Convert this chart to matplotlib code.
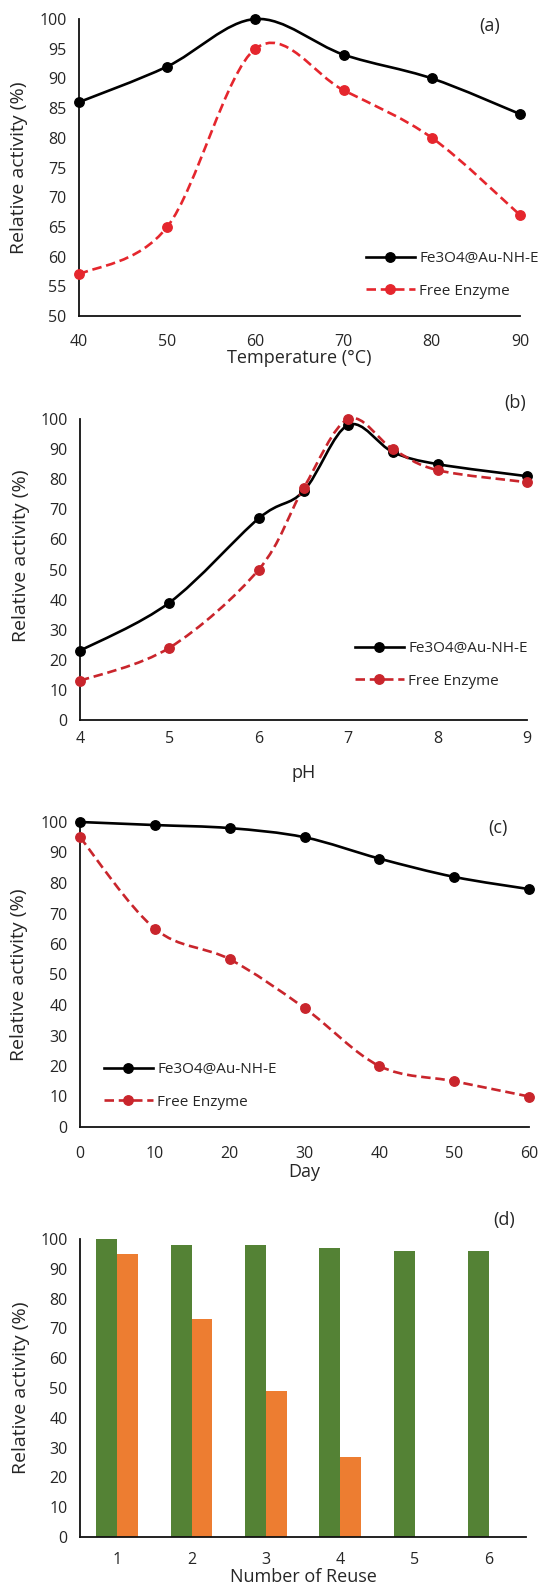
"""Enzyme activity panels: temperature, pH, storage stability and reuse."""

import matplotlib

matplotlib.use("Agg")
import matplotlib.pyplot as plt
from matplotlib.lines import Line2D
from matplotlib.patches import PathPatch
from matplotlib.path import Path
import numpy as np

plt.rcParams["font.family"] = ["Open Sans", "DejaVu Sans"]

LABEL_IMMOB = "Fe3O4@Au-NH-E"
LABEL_FREE = "Free Enzyme"

# (a) temperature
temp_c = [40, 50, 60, 70, 80, 90]
temp_immob = [86, 92, 100, 94, 90, 84]
temp_free = [57, 65, 95, 88, 80, 67]

# (b) pH
ph_values = [4, 5, 6, 6.5, 7, 7.5, 8, 9]
ph_immob = [23, 39, 67, 76, 98, 89, 85, 81]
ph_free = [13, 24, 50, 77, 100, 90, 83, 79]

# (c) storage days
days = [0, 10, 20, 30, 40, 50, 60]
day_immob = [100, 99, 98, 95, 88, 82, 78]
day_free = [95, 65, 55, 39, 20, 15, 10]

# (d) reuse cycles
reuse = [1, 2, 3, 4, 5, 6]
reuse_immob = [100, 98, 98, 97, 96, 96]
reuse_free = [95, 73, 49, 27, 0, 0]

BLACK = "#000000"
GREEN = "#548235"
ORANGE = "#ED7D31"
TEXT = "#262626"
DASH = (0, (3.6, 1.8))

W, H = 541, 1585


def px_axes(left, right, top, bottom):
    """Axes rectangle from pixel edges."""
    return [left / W, 1 - bottom / H, (right - left) / W, (bottom - top) / H]


def smooth_path(x, y):
    """Excel-like smoothed line as cubic Bezier segments."""
    pts = np.column_stack([x, y]).astype(float)
    n = len(pts)
    verts = [pts[0]]
    codes = [Path.MOVETO]
    for i in range(n - 1):
        p0 = pts[max(i - 1, 0)]
        p1 = pts[i]
        p2 = pts[i + 1]
        p3 = pts[min(i + 2, n - 1)]
        verts += [p1 + (p2 - p0) / 6, p2 - (p3 - p1) / 6, p2]
        codes += [Path.CURVE4] * 3
    return Path(verts, codes)


def draw_series(ax, x, y, color, dashed):
    ls = DASH if dashed else "-"
    ax.add_patch(PathPatch(smooth_path(x, y), fill=False, ec=color, lw=1.9,
                           ls=ls, clip_on=False, zorder=3))
    ax.plot(x, y, ls="none", marker="o", ms=6.8, color=color, clip_on=False, zorder=4)


def style_axes(ax, tick_pad_x):
    for side in ("top", "right"):
        ax.spines[side].set_visible(False)
    for side in ("left", "bottom"):
        ax.spines[side].set_linewidth(1.3)
        ax.spines[side].set_color("#111111")
    ax.tick_params(axis="both", length=0, labelsize=11.5, colors=TEXT)
    ax.tick_params(axis="y", pad=9)
    ax.tick_params(axis="x", pad=tick_pad_x)


def set_labels(ax, xlabel, xlabel_y, ylabel_x, ylabel_y=0.5):
    ax.set_xlabel(xlabel, fontsize=13, color=TEXT)
    ax.xaxis.set_label_coords(0.5, xlabel_y)
    ax.xaxis.label.set_va("center")
    ax.set_ylabel("Relative activity (%)", fontsize=14, color=TEXT)
    ax.yaxis.set_label_coords(ylabel_x, ylabel_y)
    ax.yaxis.label.set_va("center")


def add_legend(ax, red, anchor):
    handles = [
        Line2D([], [], color=BLACK, lw=1.9, marker="o", ms=6.8),
        Line2D([], [], color=red, lw=1.9, ls=DASH, marker="o", ms=6.8),
    ]
    ax.legend(handles, [LABEL_IMMOB, LABEL_FREE], loc="upper left", bbox_to_anchor=anchor,
              frameon=False, fontsize=11, handlelength=3.2, handletextpad=0.3,
              borderpad=0, borderaxespad=0, labelspacing=1.15, labelcolor=TEXT)


fig = plt.figure(figsize=(W / 100, H / 100), dpi=100)

# (a)
red_a = "#E5262D"
ax = fig.add_axes(px_axes(79, 520, 19, 316))
draw_series(ax, temp_c, temp_immob, BLACK, False)
draw_series(ax, temp_c, temp_free, red_a, True)
ax.set_xlim(40, 90)
ax.set_ylim(50, 100)
ax.set_xticks(temp_c)
ax.set_yticks(range(50, 101, 5))
style_axes(ax, 13)
set_labels(ax, "Temperature (°C)", -0.143, -0.136)
add_legend(ax, red_a, (0.65, 0.219))
ax.text(0.93, 0.976, "(a)", transform=ax.transAxes, ha="center", va="center",
        fontsize=13, color=TEXT)

# (b)
red_b = "#C9252C"
ax = fig.add_axes(px_axes(80, 527, 419, 720))
draw_series(ax, ph_values, ph_immob, BLACK, False)
draw_series(ax, ph_values, ph_free, red_b, True)
ax.set_xlim(4, 9)
ax.set_ylim(0, 100)
ax.set_xticks([4, 5, 6, 7, 8, 9])
ax.set_yticks(range(0, 101, 10))
style_axes(ax, 8)
set_labels(ax, "pH", -0.175, -0.133, 0.545)
add_legend(ax, red_b, (0.615, 0.262))
ax.text(0.973, 1.053, "(b)", transform=ax.transAxes, ha="center", va="center",
        fontsize=13, color=TEXT)

# (c)
ax = fig.add_axes(px_axes(80, 529, 822, 1127))
draw_series(ax, days, day_immob, BLACK, False)
draw_series(ax, days, day_free, red_b, True)
ax.set_xlim(0, 60)
ax.set_ylim(0, 100)
ax.set_xticks(days)
ax.set_yticks(range(0, 101, 10))
style_axes(ax, 14)
set_labels(ax, "Day", -0.148, -0.136)
add_legend(ax, red_b, (0.053, 0.213))
ax.text(0.931, 0.98, "(c)", transform=ax.transAxes, ha="center", va="center",
        fontsize=13, color=TEXT)

# (d)
ax = fig.add_axes(px_axes(80, 526, 1239, 1537))
bar_w = 0.28
xr = np.array(reuse)
ax.bar(xr - bar_w / 2, reuse_immob, width=bar_w, color=GREEN, label=LABEL_IMMOB)
ax.bar(xr + bar_w / 2, reuse_free, width=bar_w, color=ORANGE, label=LABEL_FREE)
ax.set_xlim(0.5, 6.5)
ax.set_ylim(0, 100)
ax.set_xticks(reuse)
ax.set_yticks(range(0, 101, 10))
style_axes(ax, 11)
set_labels(ax, "Number of Reuse", -0.135, -0.132)
ax.text(0.951, 1.064, "(d)", transform=ax.transAxes, ha="center", va="center",
        fontsize=13, color=TEXT)

fig.savefig("out.png", dpi=100)
plt.close(fig)
